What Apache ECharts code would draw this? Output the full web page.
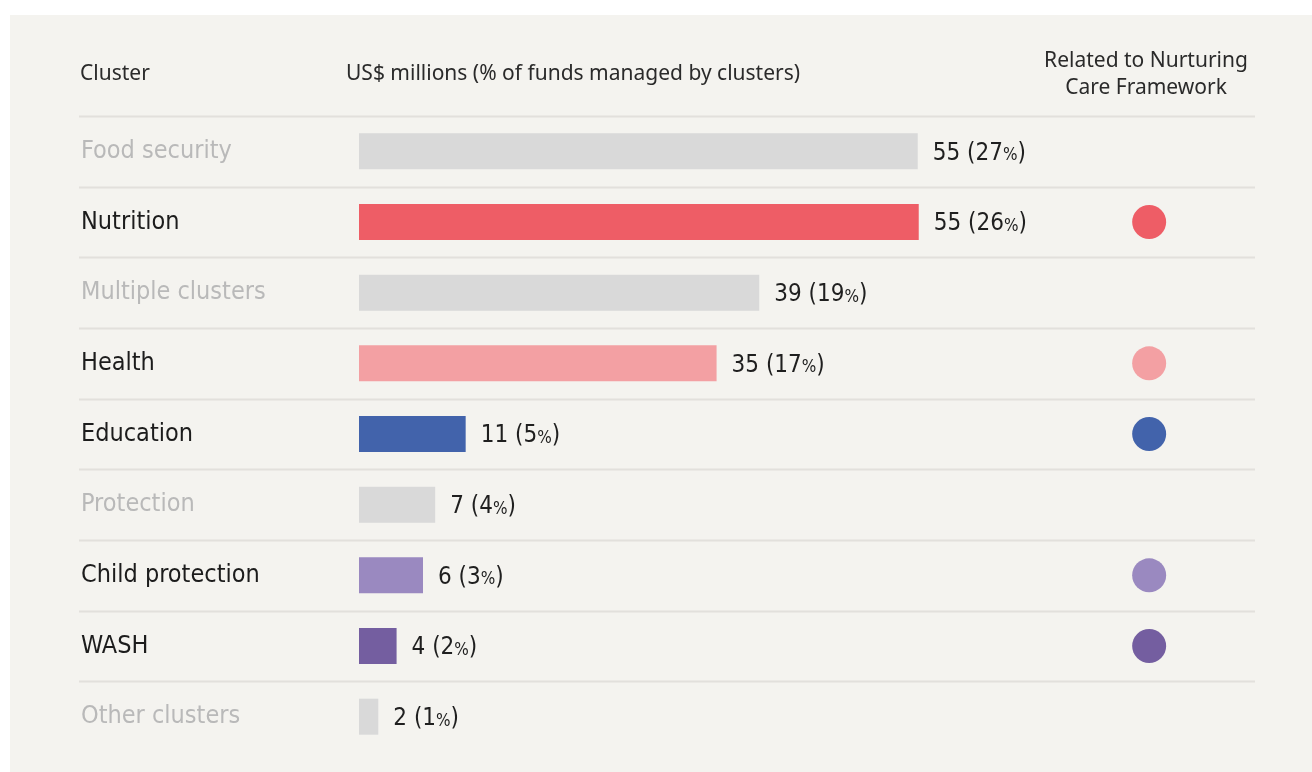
<!DOCTYPE html>
<html><head><meta charset="utf-8">
<script src="https://cdn.jsdelivr.net/npm/echarts@6/dist/echarts.min.js"></script>
<style>html,body{margin:0;padding:0;background:#fff;}#c{width:1312px;height:772px;}</style>
</head><body><div id="c"></div>
<script>
const categories = ['Food security','Nutrition','Multiple clusters','Health','Education','Protection','Child protection','WASH','Other clusters'];
const values = [55.0, 55.1, 39.4, 35.2, 10.5, 7.5, 6.3, 3.7, 1.9];
const labelValues = [55, 55, 39, 35, 11, 7, 6, 4, 2];
const percents = [27, 26, 19, 17, 5, 4, 3, 2, 1];
const related = [false, true, false, true, true, false, true, true, false];
const colors = ['#d9d9d9','#ee5d66','#d9d9d9','#f3a0a3','#4263ab','#d9d9d9','#9a89c0','#745ea0','#d9d9d9'];
const headers = ['Cluster', 'US$ millions (% of funds managed by clusters)', 'Related to Nurturing\nCare Framework'];

const COND = "'Liberation Sans Narrow','DejaVu Sans Condensed',sans-serif";
const HEAD = "'Noto Sans',sans-serif";

const chart = echarts.init(document.getElementById('c'), null, {renderer:'canvas'});
chart.setOption({
  animation:false,
  backgroundColor:'#ffffff',
  graphic:[
    {type:'rect', left:10, top:15, shape:{width:1302, height:757}, style:{fill:'#f4f3ef'}, z:-10},
    {type:'text', left:80, top:64, style:{text:headers[0], font:'21px '+HEAD, fill:'#2a2a2a'}},
    {type:'text', left:346, top:64, style:{text:headers[1], font:'21px '+HEAD, fill:'#2a2a2a'}},
    {type:'text', x:1146, y:48, style:{text:headers[2], font:'21px '+HEAD, fill:'#2a2a2a', align:'center', lineHeight:27}}
  ],
  grid:[
    {left:359, right:56, top:116, height:636},
    {left:79, right:57, top:116, height:636}
  ],
  xAxis:[
    {gridIndex:0, type:'value', min:0, max:88.3, show:false},
    {gridIndex:1, type:'value', min:0, max:1, show:false}
  ],
  yAxis:[
    {gridIndex:0, type:'category', data:categories, inverse:true,
     axisLine:{show:false}, axisTick:{show:false}, splitLine:{show:false},
     axisLabel:{align:'left', margin:278, fontFamily:COND, fontSize:25, padding:[4,0,0,0],
       color:function(v, i){ return related[categories.indexOf(v)] ? '#1c1c1c' : '#b9b9b9'; }}},
    {gridIndex:1, type:'category', data:categories, inverse:true, show:false}
  ],
  series:[
    {type:'custom', xAxisIndex:1, yAxisIndex:1, silent:true, z:1,
     data:categories.map((c,i)=>[0,i]),
     renderItem:function(params, api){
       const cs = params.coordSys;
       const p = api.coord([0, api.value(1)]);
       const h = api.size([0,1])[1];
       const y = Math.round(p[1] - h/2) + 0.5;
       return {type:'line', shape:{x1:cs.x, y1:y, x2:cs.x+cs.width, y2:y},
               style:{stroke:'#e2e0dc', lineWidth:2}};
     }},
    {type:'bar', xAxisIndex:0, yAxisIndex:0, barWidth:36, z:3,
     data:values.map((v,i)=>({value:v, itemStyle:{color:colors[i]}})),
     label:{show:true, position:'right', distance:15,
       formatter:function(p){ const i=p.dataIndex; return '{v|'+labelValues[i]+' ('+percents[i]+'}{p|%}{v|)}'; },
       rich:{v:{fontFamily:COND, fontSize:24, color:'#1f1f1f', padding:[4,0,0,0]}, p:{fontFamily:COND, fontSize:17, color:'#1f1f1f', padding:[9,0,0,0]}}}},
    {type:'scatter', xAxisIndex:1, yAxisIndex:1, symbolSize:34, z:3,
     data:categories.map((c,i)=>related[i] ? {value:[0.91, i], itemStyle:{color:colors[i], opacity:1}} : null).filter(d=>d)}
  ]
});
</script></body></html>
